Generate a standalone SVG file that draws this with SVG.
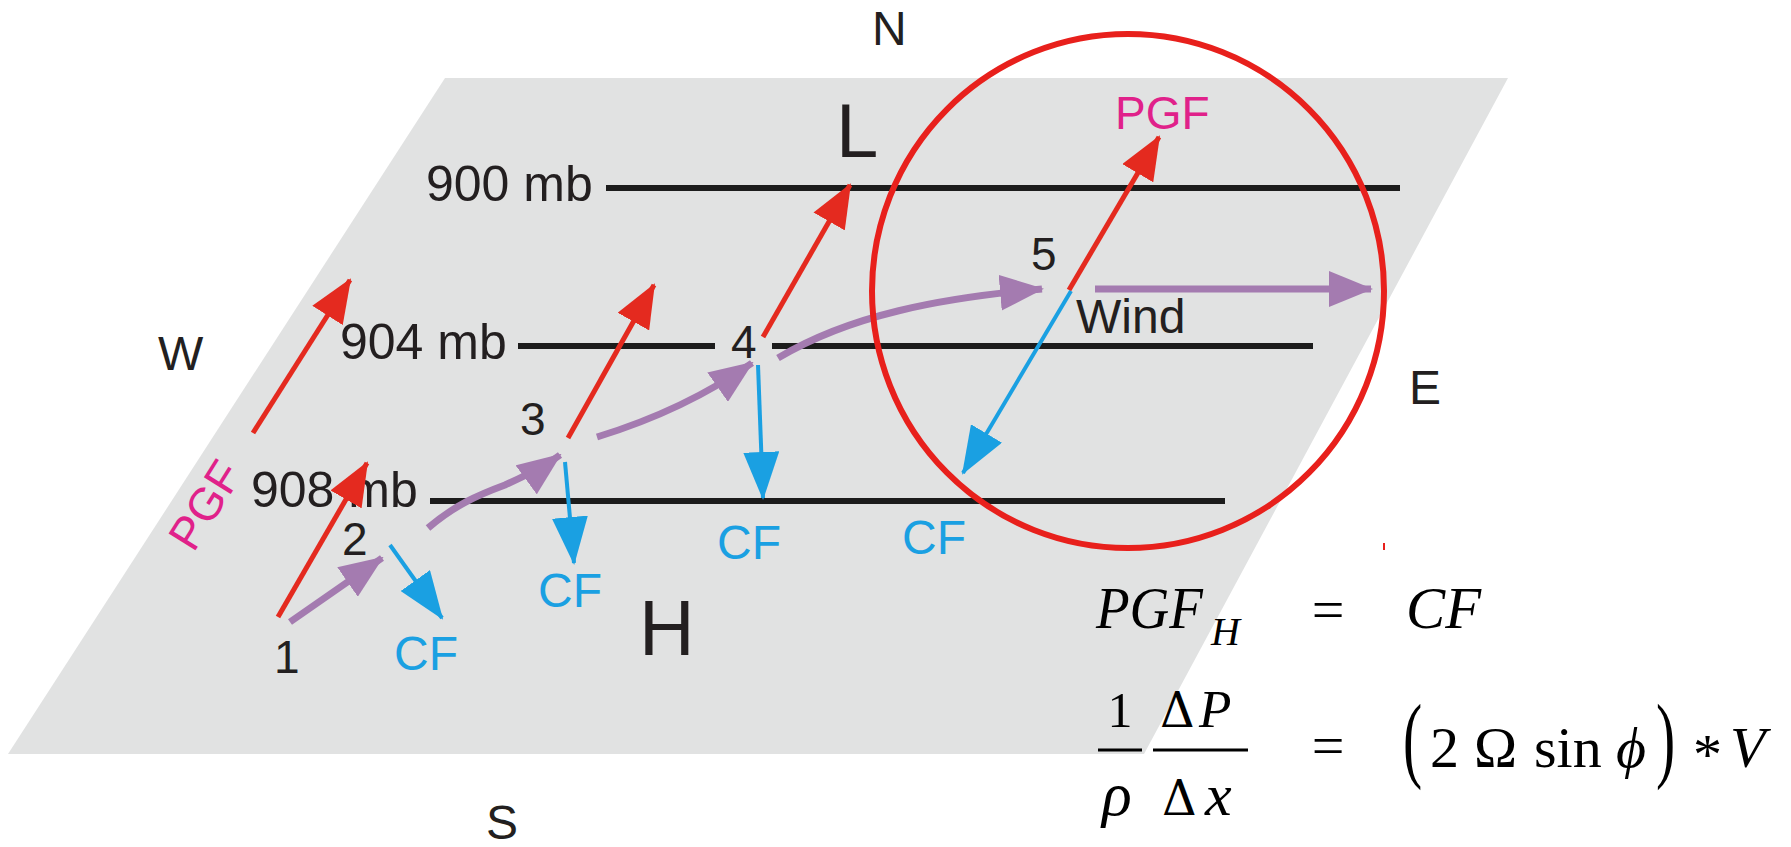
<svg xmlns="http://www.w3.org/2000/svg" width="1791" height="847" viewBox="0 0 1791 847">
<defs>
<style>
.lbl{font-family:"Liberation Sans",Arial,sans-serif;fill:#231f20}
.iso{stroke:#1c1c1c;stroke-width:6;fill:none}
.pgf{stroke:#e42a1f;stroke-width:5;fill:none;marker-end:url(#hr)}
.cf{stroke:#1aa0e2;stroke-width:4;fill:none;marker-end:url(#hb)}
.wind{stroke:#a47bb0;stroke-width:7;fill:none;marker-end:url(#hp)}
.cft{fill:#1aa0e2}
.pgft{fill:#e0218a}
.eq{font-family:"Liberation Serif","Times New Roman","DejaVu Serif",serif;fill:#000}
.dj{font-family:"DejaVu Serif",serif}
.it{font-style:italic}
.bar{stroke:#000;stroke-width:3}
</style>
<marker id="hr" viewBox="0 0 44 36" refX="42" refY="18" markerWidth="44" markerHeight="36" markerUnits="userSpaceOnUse" orient="auto"><path d="M0,0 L44,18 L0,36 z" fill="#e42a1f"/></marker>
<marker id="hb" viewBox="0 0 48 36" refX="46" refY="18" markerWidth="48" markerHeight="36" markerUnits="userSpaceOnUse" orient="auto"><path d="M0,0 L48,18 L0,36 z" fill="#1aa0e2"/></marker>
<marker id="hp" viewBox="0 0 44 36" refX="42" refY="18" markerWidth="44" markerHeight="36" markerUnits="userSpaceOnUse" orient="auto"><path d="M0,0 L44,18 L0,36 z" fill="#a47bb0"/></marker>
</defs>
<rect width="1791" height="847" fill="#ffffff"/>
<g id="plane"><polygon points="445,78 1508,78 1144,754 8,754" fill="#e1e2e2"/></g>

<g id="isobar-900"><line class="iso" x1="606" y1="188" x2="1400" y2="188"/><text class="lbl" x="426" y="201" font-size="50">900 mb</text></g>
<g id="isobar-904"><line class="iso" x1="518" y1="346" x2="715" y2="346"/><line class="iso" x1="772" y1="346" x2="1313" y2="346"/><text class="lbl" x="340" y="359" font-size="50">904 mb</text></g>
<g id="isobar-908"><line class="iso" x1="430" y1="501" x2="1225" y2="501"/><text class="lbl" x="251" y="507" font-size="50">908 mb</text></g>

<g id="compass" font-size="48">
<text class="lbl" x="872" y="45">N</text>
<text class="lbl" x="158" y="370">W</text>
<text class="lbl" x="1409" y="404">E</text>
<text class="lbl" x="486" y="839">S</text>
</g>
<g id="low"><text class="lbl" x="836" y="157" font-size="76">L</text></g>
<g id="high"><text class="lbl" x="639" y="655" font-size="77">H</text></g>

<g id="connectors">
<line class="pgf" x1="253" y1="433" x2="350" y2="280"/>
<line class="pgf" x1="278" y1="617" x2="367" y2="463"/>
<line class="pgf" x1="568" y1="438" x2="654" y2="285"/>
<line class="pgf" x1="763" y1="337" x2="850" y2="185"/>
<line class="pgf" x1="1069" y1="290" x2="1159" y2="137"/>
<line class="cf" x1="390" y1="545" x2="442" y2="618"/>
<line class="cf" x1="565" y1="462" x2="574" y2="563"/>
<line class="cf" x1="758" y1="365" x2="763" y2="498"/>
<line class="cf" x1="1071" y1="291" x2="963" y2="473"/>
<path class="wind" d="M290,622 L382,558"/>
<path class="wind" d="M428,528 C455,505 478,495 505,485 C525,476 545,466 560,455"/>
<path class="wind" d="M597,437 Q685,410 752,363"/>
<path class="wind" d="M778,358 C850,315 940,298 1042,289"/>
<path class="wind" d="M1095,289 L1371,289"/>
</g>

<g id="point-1"><text class="lbl" x="274" y="673" font-size="46">1</text></g>
<g id="point-2"><text class="lbl" x="342" y="555" font-size="46">2</text></g>
<g id="point-3"><text class="lbl" x="520" y="435" font-size="46">3</text></g>
<g id="point-4"><text class="lbl" x="731" y="358" font-size="46">4</text></g>
<g id="point-5"><text class="lbl" x="1031" y="270" font-size="46">5</text></g>
<g id="wind-label"><text class="lbl" x="1076" y="333" font-size="48">Wind</text></g>

<g id="pgf-labels">
<text class="lbl pgft" x="1115" y="129" font-size="46">PGF</text>
<text class="lbl pgft" font-size="46" text-anchor="middle" transform="translate(205,505) rotate(-58)" x="0" y="16">PGF</text>
</g>
<g id="cf-labels" font-size="48">
<text class="lbl cft" x="394" y="670">CF</text>
<text class="lbl cft" x="538" y="607">CF</text>
<text class="lbl cft" x="717" y="559">CF</text>
<text class="lbl cft" x="902" y="554">CF</text>
</g>

<g id="highlight">
<ellipse cx="1128" cy="291" rx="256" ry="257" fill="none" stroke="#e8201c" stroke-width="6"/>
<rect x="1383" y="543" width="2" height="7" fill="#e8201c"/>
</g>

<g id="equation" font-size="58">
<text class="eq it" x="1096" y="628" font-size="60" textLength="107" lengthAdjust="spacingAndGlyphs">PGF</text>
<text class="eq it" x="1211" y="645" font-size="40">H</text>
<text class="eq" x="1328" y="629" text-anchor="middle">=</text>
<text class="eq it" x="1406" y="628" font-size="60" textLength="75" lengthAdjust="spacingAndGlyphs">CF</text>
<text class="eq" x="1120" y="727" font-size="50" text-anchor="middle">1</text>
<line class="bar" x1="1098" y1="750" x2="1142" y2="750"/>
<text class="eq it" x="1102" y="815" font-size="62">ρ</text>
<text class="eq dj" x="1160" y="727" font-size="48">Δ</text>
<text class="eq it" x="1199" y="727" font-size="53">P</text>
<line class="bar" x1="1153" y1="750" x2="1248" y2="750"/>
<text class="eq dj" x="1162" y="815" font-size="48">Δ</text>
<text class="eq it" x="1205" y="815" font-size="60">x</text>
<text class="eq" x="1328" y="765" text-anchor="middle">=</text>
<text class="eq" font-size="96" transform="translate(1403,770) scale(0.6,1)">(</text>
<text class="eq" x="1430" y="767">2<tspan x="1474">Ω</tspan><tspan x="1534">sin</tspan><tspan class="it" x="1616">ϕ</tspan></text>
<text class="eq" font-size="96" transform="translate(1656,770) scale(0.6,1)">)</text>
<text class="eq" x="1693" y="774">*</text>
<text class="eq it" x="1730" y="767">V</text>
</g>
</svg>
